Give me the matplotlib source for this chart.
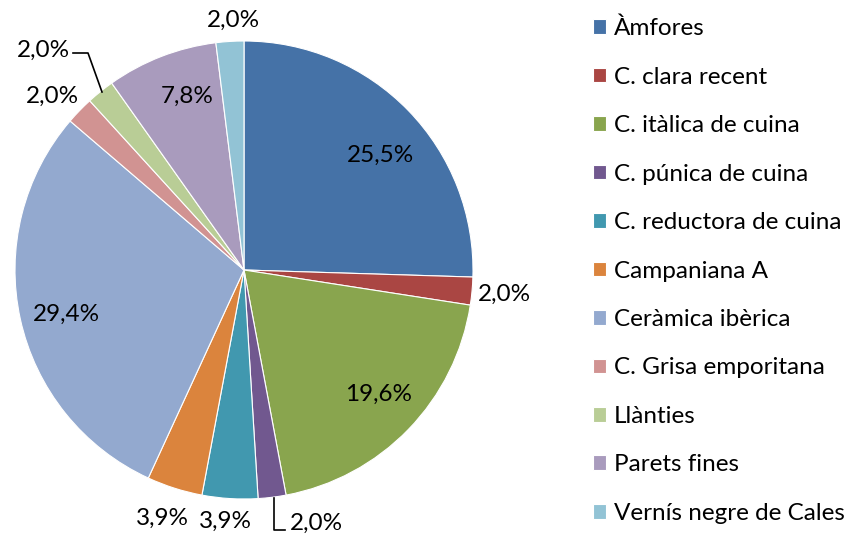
import matplotlib
matplotlib.use("Agg")
import matplotlib.pyplot as plt
import numpy as np

categories = ["Àmfores", "C. clara recent", "C. itàlica de cuina", "C. púnica de cuina",
              "C. reductora de cuina", "Campaniana A", "Ceràmica ibèrica",
              "C. Grisa emporitana", "Llànties", "Parets fines", "Vernís negre de Cales"]
counts = [13, 1, 10, 1, 2, 2, 15, 1, 1, 4, 1]
colors = ["#4572A7", "#AA4643", "#89A54E", "#71588F", "#4198AF", "#DB843D",
          "#93A9CF", "#D19392", "#B9CD96", "#A99BBD", "#92C3D5"]

# label distance (fraction of radius) and extra angle shift in degrees
label_r = [0.78, 1.14, 0.80, 1.15, 1.10, 1.14, 0.80, 1.13, 1.30, 0.80, 1.09]
label_shift = [-4, 0, 1.4, 9, -0.8, -0.5, 1.6, 1.9, 3.5, -3, -1.2]

plt.rcParams['font.family'] = ['Lato', 'DejaVu Sans']

W, H = 849, 536
fig = plt.figure(figsize=(W / 100, H / 100), dpi=100)
ax = fig.add_axes([0, 0, 1, 1])

cx, cy, R = 244, H - 270, 229
wedges, _ = ax.pie(counts, colors=colors, startangle=90, counterclock=False,
                   center=(cx, cy), radius=R, frame=True,
                   wedgeprops=dict(edgecolor='white', linewidth=0.8))
ax.set_xlim(0, W)
ax.set_ylim(0, H)
ax.set_aspect('equal')
ax.axis('off')

total = sum(counts)
for i, w in enumerate(wedges):
    mid = np.deg2rad((w.theta1 + w.theta2) / 2 + label_shift[i])
    x = cx + label_r[i] * R * np.cos(mid)
    y = cy + label_r[i] * R * np.sin(mid)
    pct = f"{100 * counts[i] / total:.1f}%".replace('.', ',')
    ax.text(x, y, pct, ha='center', va='center', fontsize=17.5, color='black')

# leader lines for the small slices
ax.plot([102, 88, 73], [H - 92, H - 53, H - 53], color='black', lw=1.2)
ax.plot([274, 274, 285], [H - 498, H - 530, H - 530], color='black', lw=1.2)

ax.legend(wedges, categories, loc='upper left', bbox_to_anchor=(583 / W, 1 - 8 / H),
          frameon=False, fontsize=17.5, handlelength=0.55, handleheight=0.55,
          handletextpad=0.33, labelspacing=1.13, borderaxespad=0.0)

fig.savefig("out.png", dpi=100)
